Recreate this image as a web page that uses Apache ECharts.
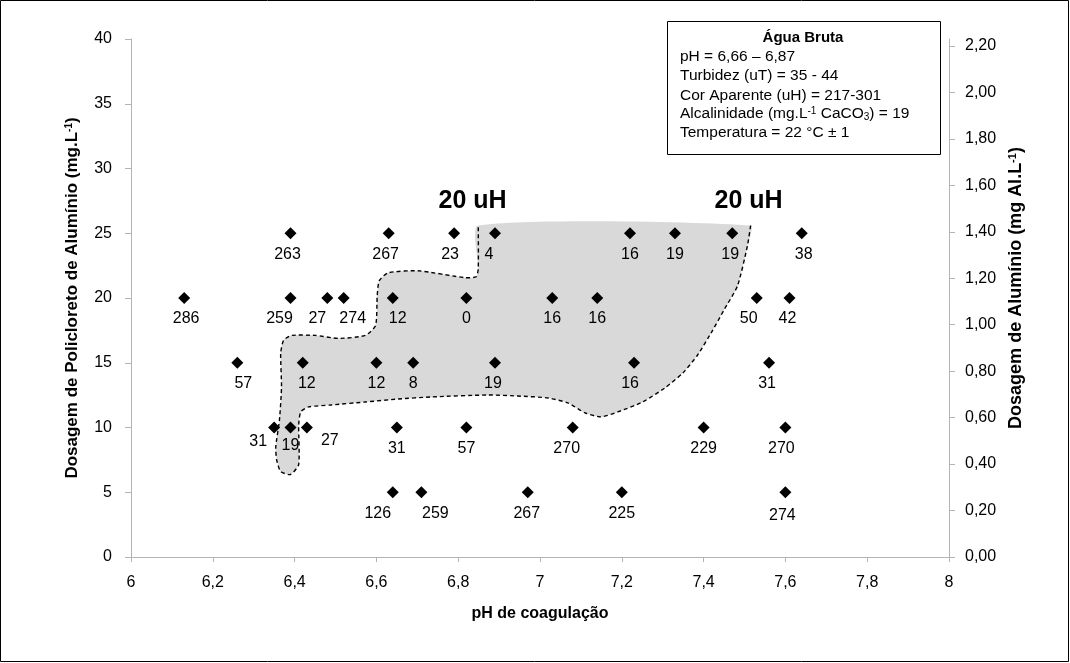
<!DOCTYPE html>
<html><head><meta charset="utf-8">
<script src="https://cdn.jsdelivr.net/npm/echarts@6/dist/echarts.min.js"></script>
<style>html,body{margin:0;padding:0;background:#fff}#c{width:1070px;height:663px}</style>
</head><body><div id="c"></div>
<script>
// ---- data ----
const phValues = [6.39,6.63,6.79,6.89,7.22,7.33,7.47,7.64,
                  6.13,6.39,6.48,6.52,6.64,6.82,7.03,7.14,7.53,7.61,
                  6.26,6.42,6.60,6.69,6.89,7.23,7.56,
                  6.35,6.39,6.43,6.65,6.82,7.08,7.40,7.60,
                  6.64,6.71,6.97,7.20,7.60];
const doseValues = [25,25,25,25,25,25,25,25,
                    20,20,20,20,20,20,20,20,20,20,
                    15,15,15,15,15,15,15,
                    10,10,10,10,10,10,10,10,
                    5,5,5,5,5];
const colorLabels = ['263','267','23','4','16','19','19','38',
                     '286','259','27','274','12','0','16','16','50','42',
                     '57','12','12','8','19','16','31',
                     '31','19','27','31','57','270','229','270',
                     '126','259','267','225','274'];
const xTicks = [6,6.2,6.4,6.6,6.8,7,7.2,7.4,7.6,7.8,8];
const leftTicks = [0,5,10,15,20,25,30,35,40];
const rightTicks = [0,0.2,0.4,0.6,0.8,1.0,1.2,1.4,1.6,1.8,2.0,2.2];
// boundary of the 20 uH region (pH, dose)
const regionPH = [7.515,7.507,7.483,7.449,7.422,7.385,7.349,7.305,7.251,7.190,7.149,7.110,7.068,7.020,6.946,6.873,6.734,6.654,6.573,6.490,6.434,6.415,6.410,6.410,6.390,6.366,6.356,6.354,6.363,6.368,6.366,6.373,6.393,6.451,6.507,6.573,6.598,6.602,6.607,6.629,6.702,6.817,6.844,6.849,6.849];
const regionDose = [25.6,24.0,20.95,19.03,17.5,15.58,14.2,13.05,11.97,11.2,10.82,11.13,11.9,12.28,12.43,12.51,12.36,12.2,11.97,11.74,11.59,11.2,10.21,7.14,6.37,6.6,7.52,8.52,10.59,13.12,15.73,16.73,17.11,17.11,16.88,17.11,17.88,20.18,21.34,21.95,22.1,21.57,21.64,22.26,25.6];
const annotPH = [6.835, 7.51];
const annotDose = [27.5, 27.5];
const annotText = ['20 uH', '20 uH'];
const legendTitle = 'Água Bruta';
const legendLines = [
  'pH = 6,66 – 6,87',
  'Turbidez (uT) = 35 - 44',
  'Cor Aparente (uH) = 217-301',
  'Alcalinidade (mg.L{sup|-1} CaCO{sub|3}) = 19',
  'Temperatura = 22 °C ± 1'
];
const xName = 'pH de coagulação';
const leftName = 'Dosagem de Policloreto de Alumínio (mg.L{sup|-1})';
const rightName = 'Dosagem de Alumínio (mg Al.L{sup|-1})';

// ---- styling (label nudges by point index) ----
const labelNudge = {0:[-3,0],1:[-3,0],2:[-4,0],3:[-6,0],6:[-2,0],7:[2,0],8:[2,0],9:[-11,0],10:[-10,0],11:[9,0],12:[5,0],
  16:[-8,0],17:[-2,0],18:[6,0],19:[4,0],22:[-2,0],23:[-4,0],24:[-2,0],25:[-16,-7],26:[0,-3],27:[23,-8],
  30:[-6,0],32:[-4,0],33:[-15,0],34:[14,0],35:[-1,0],37:[-3,2]};

const FONT = 'Liberation Sans, Arial, sans-serif';
const TXT = '#000';
const AXC = '#b4b4b4';

const chart = echarts.init(document.getElementById('c'), null, {renderer:'canvas'});

const pts = phValues.map((x,i) => ({
  value:[x, doseValues[i]],
  label: labelNudge[i] ? {offset: labelNudge[i]} : undefined
}));

const fmtX = v => String(+(+v).toFixed(1)).replace('.', ',');
const fmtR = v => (+v).toFixed(2).replace('.', ',');

const option = {
  animation:false,
  backgroundColor:'#fff',
  grid:{left:131, right:121, top:39, bottom:106, containLabel:false},
  xAxis:{type:'value', min:6, max:8, interval:0.2,
    name:xName, nameLocation:'middle', nameGap:49,
    nameTextStyle:{fontFamily:FONT, fontSize:16, fontWeight:'bold', color:TXT},
    axisLine:{show:true, onZero:false, lineStyle:{color:AXC, width:1}},
    axisTick:{show:true, length:5, lineStyle:{color:AXC}},
    axisLabel:{fontFamily:FONT, fontSize:16, color:TXT, margin:18, formatter:fmtX},
    splitLine:{show:false}},
  yAxis:[
    {type:'value', min:0, max:40, interval:5, position:'left',
     name:leftName, nameLocation:'middle', nameGap:50, nameRotate:90,
     nameTextStyle:{fontFamily:FONT, fontSize:17, fontWeight:'bold', color:TXT,
        rich:{sup:{fontFamily:FONT, fontSize:10, fontWeight:'bold', color:TXT, verticalAlign:'top'}}},
     axisLine:{show:true, onZero:false, lineStyle:{color:AXC, width:1}},
     axisTick:{show:true, length:6, lineStyle:{color:AXC}},
     axisLabel:{fontFamily:FONT, fontSize:16, color:TXT, margin:19},
     splitLine:{show:false}},
    {type:'value', min:0, max:2.23, interval:0.2, position:'right',
     name:rightName, nameLocation:'middle', nameGap:47, nameRotate:90,
     nameTextStyle:{fontFamily:FONT, fontSize:18, fontWeight:'bold', color:TXT, padding:[0,0,0,20],
        rich:{sup:{fontFamily:FONT, fontSize:11, fontWeight:'bold', color:TXT, verticalAlign:'top'}}},
     axisLine:{show:true, onZero:false, lineStyle:{color:AXC, width:1}},
     axisTick:{show:true, length:6, lineStyle:{color:AXC}, customValues:rightTicks},
     axisLabel:{fontFamily:FONT, fontSize:16, color:TXT, margin:16, formatter:fmtR, customValues:rightTicks},
     splitLine:{show:false}}
  ],
  series:[
    {type:'custom', coordinateSystem:'cartesian2d', xAxisIndex:0, yAxisIndex:0, z:1, silent:true, clip:false,
     data:[[6.8,20]],
     renderItem:function(params, api){
       const points = regionPH.map((x,i)=>api.coord([x, regionDose[i]]));
       return {type:'group', children:[
         {type:'polygon', shape:{points:points, smooth:0.2}, style:{fill:'#d9d9d9', stroke:null}},
         {type:'polyline', shape:{points:points, smooth:0.2}, style:{fill:null, stroke:'#000', lineWidth:1.4, lineDash:[4,3]}}
       ]};
     }},
    {type:'scatter', xAxisIndex:0, yAxisIndex:0, z:5, symbol:'diamond', symbolSize:12,
     itemStyle:{color:'#000', opacity:1},
     label:{show:true, position:'bottom', distance:7, fontFamily:FONT, fontSize:16, color:TXT,
        formatter:p=>colorLabels[p.dataIndex]},
     data:pts},
    {type:'custom', coordinateSystem:'cartesian2d', xAxisIndex:0, yAxisIndex:0, z:6, silent:true, clip:false,
     data:annotPH.map((x,i)=>[x, annotDose[i]]),
     renderItem:function(params, api){
       const p = api.coord([api.value(0), api.value(1)]);
       return {type:'text', x:p[0], y:p[1],
         style:{text:annotText[params.dataIndex], font:'bold 25px '+FONT, fill:'#000',
                align:'center', verticalAlign:'middle'}};
     }}
  ],
  graphic:[
    {type:'rect', shape:{x:0.5, y:0.5, width:1068, height:661}, style:{fill:null, stroke:'#000', lineWidth:1}, z:0, silent:true},
    {type:'rect', shape:{x:667.5, y:21.5, width:273, height:133}, style:{fill:'#fff', stroke:'#000', lineWidth:1}, z:10, silent:true},
    {type:'text', x:803, y:38, z:11, style:{text:legendTitle, font:'bold 15px '+FONT, fill:'#000', textAlign:'center', textVerticalAlign:'middle'}},
  ].concat(legendLines.map((t,i)=>({
    type:'text', x:680, y:[57,76,96,114,133][i], z:11,
    style:{text:t, fontFamily:FONT, fontSize:15.5, fill:'#000', textAlign:'left', textVerticalAlign:'middle',
      rich:{sup:{fontFamily:FONT, fontSize:10, fill:'#000', verticalAlign:'top'},
            sub:{fontFamily:FONT, fontSize:10, fill:'#000', verticalAlign:'bottom'}}}
  })))
};
chart.setOption(option);
</script></body></html>
